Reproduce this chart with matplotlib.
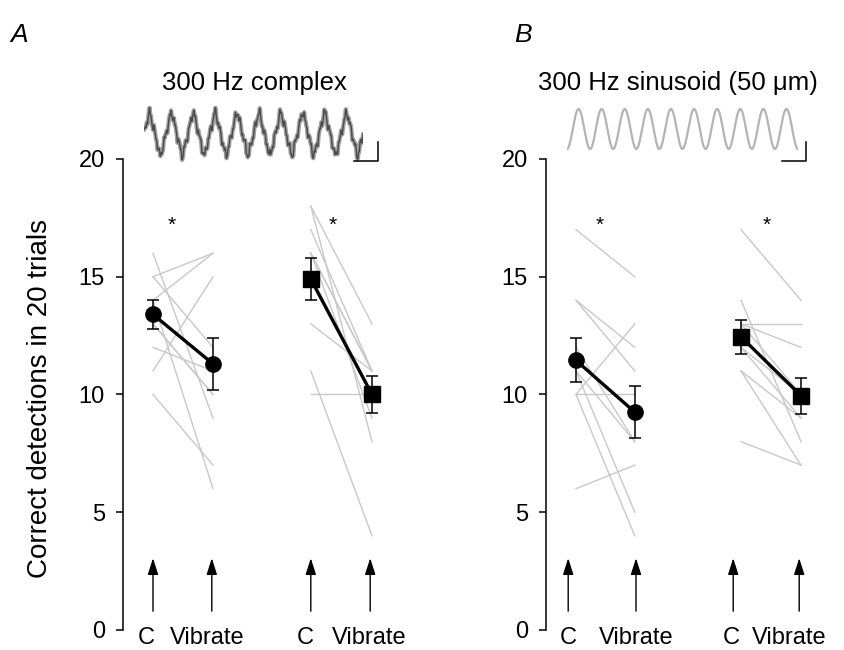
"""Correct detections before / during vibration, two stimulus types."""
import matplotlib
matplotlib.use('Agg')
from matplotlib import pyplot as plt
from matplotlib.lines import Line2D
import numpy as np

plt.rcParams['font.family'] = ['Liberation Sans', 'DejaVu Sans']

W, H = 844., 650.   # figure size in pixels

cond_labels = ['C', 'Vibrate', 'C', 'Vibrate']
panel_letters = ['A', 'B']
panel_titles = ['300 Hz complex', '300 Hz sinusoid (50 \u03bcm)']
y_ticks = [0, 5, 10, 15, 20]

# single subjects: correct detections in 20 trials, control -> vibrate
a_circ_ctrl = [16, 15, 15, 14, 14, 13, 13, 12, 11, 10]
a_circ_vib = [9, 16, 12, 16, 6, 10, 10, 11, 15, 7]
a_sq_ctrl = [18, 18, 17, 16, 16, 16, 15, 13, 11, 10]
a_sq_vib = [13, 8, 11, 11, 9, 11, 10, 11, 4, 10]
b_circ_ctrl = [17, 14, 14, 12, 11, 11, 10, 10, 10, 6]
b_circ_vib = [15, 12, 11, 8, 8, 5, 13, 10, 4, 7]
b_sq_ctrl = [17, 14, 13, 13, 13, 12, 12, 11, 11, 8]
b_sq_vib = [14, 8, 13, 12, 10, 10, 9, 9, 7, 7]

# group means +- s.e.m. (control, vibrate)
a_circ_mean = [13.4, 11.3]
a_circ_sem = [0.6, 1.1]
a_sq_mean = [14.9, 10.0]
a_sq_sem = [0.9, 0.8]
b_circ_mean = [11.45, 9.25]
b_circ_sem = [0.93, 1.1]
b_sq_mean = [12.45, 9.95]
b_sq_sem = [0.72, 0.76]

star_y = 17.2

# stimulus traces: components of the complex tone (relative frequency, amplitude, phase)
n_cycles = 10
complex_freq = [1, 3, 5, 4.37, 8.9, 15.3]
complex_amp = [1.0, -0.11, 0.04, 0.16, 0.10, 0.06]
complex_phase = [0.0, 0.0, 0.0, 0.7, 1.0, 2.2]

# layout (x in units of the C -> Vibrate spacing)
panels = [
    dict(left=123, xpos=[0, 1.0, 2.63, 3.65], arrow_x=[0, 0.98, 2.63, 3.62],
         label_x=[-0.12, 0.9, 2.53, 3.6], star_x=[0.31, 3.0],
         ctrl=[a_circ_ctrl, a_sq_ctrl], vib=[a_circ_vib, a_sq_vib],
         mean=[a_circ_mean, a_sq_mean], sem=[a_circ_sem, a_sq_sem]),
    dict(left=546, xpos=[0, 0.98, 2.75, 3.75], arrow_x=[-0.13, 1.0, 2.62, 3.72],
         label_x=[-0.13, 1.0, 2.58, 3.55], star_x=[0.4, 3.17],
         ctrl=[b_circ_ctrl, b_sq_ctrl], vib=[b_circ_vib, b_sq_vib],
         mean=[b_circ_mean, b_sq_mean], sem=[b_circ_sem, b_sq_sem]),
]
unit = 60.          # pixels per x unit
xlo, xhi = -0.5, 4.3

fig = plt.figure(figsize=(W / 100, H / 100), dpi=100)

for i, p in enumerate(panels):
    ax = fig.add_axes([p['left'] / W, 20 / H, (xhi - xlo) * unit / W, 471 / H])
    ax.set_xlim(xlo, xhi)
    ax.set_ylim(0, 20)
    for s in ['top', 'right', 'bottom']:
        ax.spines[s].set_visible(False)
    ax.spines['left'].set_linewidth(1.1)
    ax.set_xticks([])
    ax.set_yticks(y_ticks)
    ax.tick_params(axis='y', direction='out', length=5, width=1.1, labelsize=17, pad=8)

    markers = ['o', 's']
    for g in range(2):
        x0, x1 = p['xpos'][2 * g], p['xpos'][2 * g + 1]
        for c, v in zip(p['ctrl'][g], p['vib'][g]):
            ax.plot([x0, x1], [c, v], color='#c8c8c8', lw=1.0, zorder=1)
        ax.errorbar([x0, x1], p['mean'][g], yerr=p['sem'][g], color='k', lw=2.4,
                    marker=markers[g], ms=11 if g == 0 else 12, elinewidth=1.1,
                    capsize=4.5, capthick=1.1, zorder=3)
        ax.text(p['star_x'][g], star_y, '*', ha='center', va='center', fontsize=15)

    for ax_x, lx, lab in zip(p['arrow_x'], p['label_x'], cond_labels):
        ax.annotate('', xy=(ax_x, 3.05), xytext=(ax_x, 0.8),
                    arrowprops=dict(arrowstyle='-|>,head_length=0.5,head_width=0.16',
                                    mutation_scale=20, color='k', lw=1.0,
                                    shrinkA=0, shrinkB=0))
        ax.text(lx, -0.35, lab, ha='center', va='center', fontsize=17, clip_on=False)

    # panel letter and title
    fig.text([10, 514][i] / W, 1 - 35 / H, panel_letters[i], fontsize=19,
             style='italic', va='center', ha='left')
    fig.text([254, 678][i] / W, 1 - 83 / H, panel_titles[i], fontsize=18.5,
             ha='center', va='center')

fig.text(40 / W, 1 - 398 / H, 'Correct detections in 20 trials', fontsize=20,
         rotation=90, ha='center', va='center')

# stimulus traces
t = np.linspace(0, 2 * np.pi * n_cycles, 2000)
wave_a = sum(a * np.sin(f * t + ph) for f, a, ph in zip(complex_freq, complex_amp, complex_phase))
wax = fig.add_axes([144 / W, 1 - 162 / H, 219 / W, 56 / H])
wax.plot(t, wave_a, color='#a0a0a0', lw=3.0)
wax.plot(t, wave_a, color='#4a4a4a', lw=1.0)
wax.set_xlim(t[0], t[-1])
wax.set_ylim(-1.5, 1.5)
wax.axis('off')

wave_b = -np.cos(t)
wbx = fig.add_axes([567 / W, 1 - 150 / H, 231 / W, 42 / H])
wbx.plot(t, wave_b, color='#b4b4b4', lw=1.6)
wbx.set_xlim(t[0], t[-1])
wbx.set_ylim(-1.05, 1.05)
wbx.axis('off')

# scale bars
for xr, yb in [(378, 161), (806, 161)]:
    fig.add_artist(Line2D([(xr - 24) / W, xr / W, xr / W],
                          [1 - yb / H, 1 - yb / H, 1 - (yb - 19) / H],
                          transform=fig.transFigure, color='k', lw=1.1))

fig.savefig('out.png', dpi=100)
